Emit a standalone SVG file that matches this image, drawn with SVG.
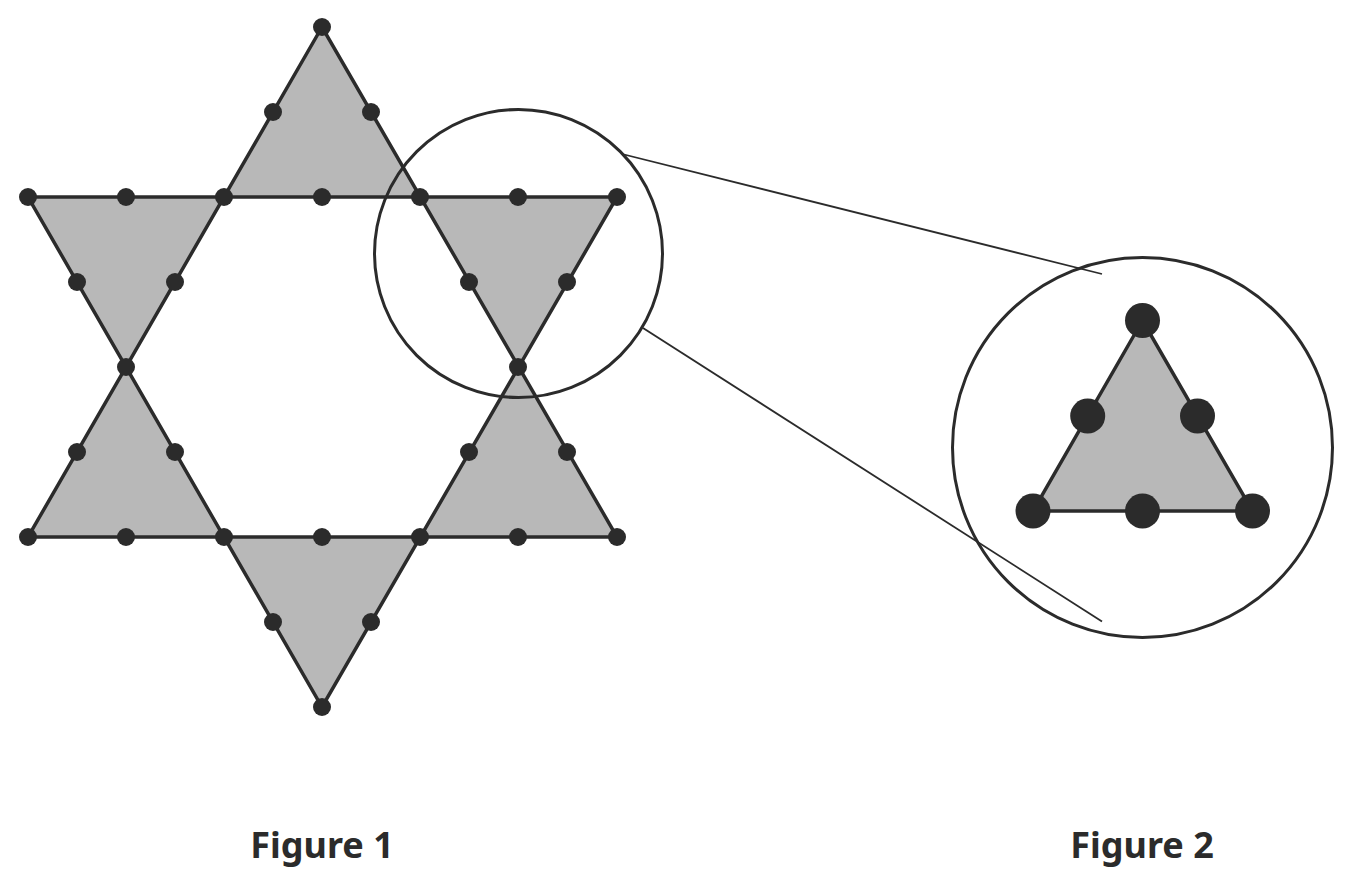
<svg xmlns="http://www.w3.org/2000/svg" width="1353" height="885" viewBox="0 0 1353 885">
<style>
.tri{fill:#b8b8b8;stroke:none}
.edge{fill:none;stroke:#2b2b2b;stroke-width:3.5;stroke-linejoin:miter}
.dot{fill:#2b2b2b}
.ring{fill:none;stroke:#2b2b2b;stroke-width:3}
.conn{stroke:#2b2b2b;stroke-width:1.8;fill:none}
.lbl{font-family:"Noto Sans","Open Sans",sans-serif;font-weight:bold;font-size:36px;fill:#2b2b2b;text-anchor:middle}
</style>
<defs>
<circle id="d" r="9" class="dot"/>
<circle id="D" r="17.5" class="dot"/>
</defs>
<g id="figure1">
  <g id="star-fill">
    <polygon class="tri" points="322,27 224,197 420,197"/>
    <polygon class="tri" points="28,197 224,197 126,367"/>
    <polygon class="tri" points="420,197 617,197 518,367"/>
    <polygon class="tri" points="126,367 28,537 224,537"/>
    <polygon class="tri" points="518,367 420,537 617,537"/>
    <polygon class="tri" points="224,537 420,537 322,707"/>
  </g>
  <g id="star-edges">
    <polygon class="edge" points="322,27 28,537 617,537"/>
    <polygon class="edge" points="28,197 617,197 322,707"/>
  </g>
  <g id="star-dots">
    <use href="#d" x="322" y="27"/>
    <use href="#d" x="273" y="112"/><use href="#d" x="371" y="112"/>
    <use href="#d" x="28" y="197"/><use href="#d" x="126" y="197"/><use href="#d" x="224" y="197"/><use href="#d" x="322" y="197"/><use href="#d" x="420" y="197"/><use href="#d" x="518" y="197"/><use href="#d" x="617" y="197"/>
    <use href="#d" x="77" y="282"/><use href="#d" x="175" y="282"/><use href="#d" x="469" y="282"/><use href="#d" x="567" y="282"/>
    <use href="#d" x="126" y="367"/><use href="#d" x="518" y="367"/>
    <use href="#d" x="77" y="452"/><use href="#d" x="175" y="452"/><use href="#d" x="469" y="452"/><use href="#d" x="567" y="452"/>
    <use href="#d" x="28" y="537"/><use href="#d" x="126" y="537"/><use href="#d" x="224" y="537"/><use href="#d" x="322" y="537"/><use href="#d" x="420" y="537"/><use href="#d" x="518" y="537"/><use href="#d" x="617" y="537"/>
    <use href="#d" x="273" y="622"/><use href="#d" x="371" y="622"/>
    <use href="#d" x="322" y="707"/>
  </g>
  <circle id="zoom-ring" class="ring" cx="518.5" cy="253.5" r="144"/>
  <text class="lbl" x="322" y="858">Figure 1</text>
</g>
<g id="connectors">
  <line class="conn" x1="622" y1="154" x2="1102" y2="274"/>
  <line class="conn" x1="643" y1="328" x2="1102" y2="621.5"/>
</g>
<g id="figure2">
  <circle class="ring" cx="1142.5" cy="447.5" r="190"/>
  <polygon class="tri" points="1142.5,320.5 1033,511 1252.5,511"/>
  <polygon class="edge" points="1142.5,320.5 1033,511 1252.5,511"/>
  <use href="#D" x="1142.5" y="320.5"/>
  <use href="#D" x="1087.7" y="416"/>
  <use href="#D" x="1197.5" y="416"/>
  <use href="#D" x="1033" y="511"/>
  <use href="#D" x="1142.5" y="511"/>
  <use href="#D" x="1252.5" y="511"/>
  <text class="lbl" x="1142" y="858">Figure 2</text>
</g>
</svg>
